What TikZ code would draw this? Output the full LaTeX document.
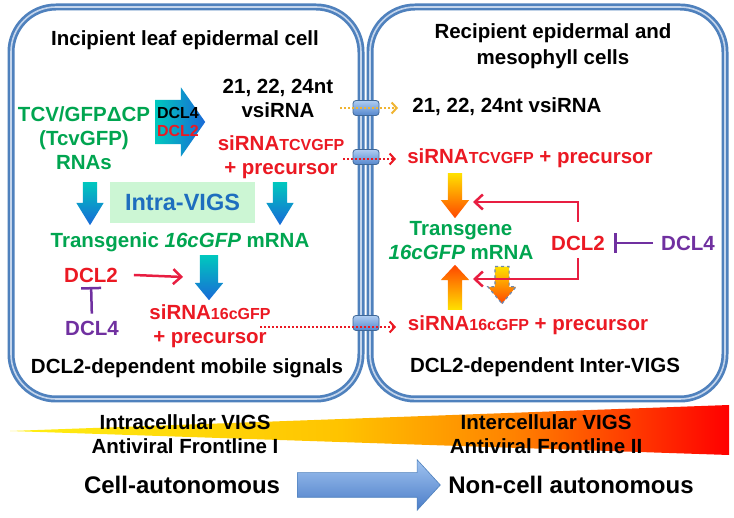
\documentclass[tikz,border=0pt]{standalone}
\usepackage{fontspec}
\setmainfont{Liberation Sans}
\usetikzlibrary{shapes.arrows}
\usetikzlibrary{arrows.meta}
\usetikzlibrary{positioning}

\definecolor{cellblue}{RGB}{79,129,189}
\definecolor{celllight}{RGB}{196,213,236}
\definecolor{vgreen}{RGB}{0,165,80}
\definecolor{vred}{RGB}{235,25,35}
\definecolor{actred}{RGB}{232,30,65}
\definecolor{vpurple}{RGB}{112,48,160}
\definecolor{intrablue}{RGB}{30,110,190}
\definecolor{intrabg}{RGB}{204,246,212}
\definecolor{tealtop}{RGB}{0,200,190}
\definecolor{bluebot}{RGB}{25,105,215}
\definecolor{flameY}{RGB}{255,225,0}
\definecolor{flameR}{RGB}{255,70,0}
\definecolor{goldline}{RGB}{240,180,50}
\definecolor{poretop}{RGB}{175,205,242}
\definecolor{porebot}{RGB}{85,135,205}
\definecolor{wedgeY}{RGB}{255,240,20}
\definecolor{wedgeG}{RGB}{255,195,0}
\definecolor{wedgeO}{RGB}{255,130,0}
\definecolor{wedgeR}{RGB}{255,0,0}
\definecolor{autotop}{RGB}{160,195,240}
\definecolor{autobot}{RGB}{75,125,200}
\definecolor{dashblue}{RGB}{110,135,175}

\pgfdeclarehorizontalshading{frontline}{100bp}{color(0bp)=(wedgeY); color(25bp)=(wedgeY); color(48bp)=(wedgeG); color(60bp)=(wedgeO); color(75bp)=(wedgeR); color(100bp)=(wedgeR)}

\newcommand{\bodysize}{\fontsize{20.5}{24}\selectfont\bfseries}
\newcommand{\subsize}{\fontsize{16}{18}\selectfont}

\tikzset{
  txt/.style={font=\bodysize, inner sep=0pt, align=center},
  cellbox/.style={draw=cellblue, double=celllight, double distance=1.6pt, line width=2.7pt, rounded corners=45pt, inner sep=0pt},
  pore/.style={draw=cellblue!80!black, line width=0.8pt, rounded corners=3pt, top color=poretop, bottom color=porebot, minimum width=26pt, minimum height=15pt, inner sep=0pt},
  blockarrow/.style={single arrow, single arrow head indent=0pt, anchor=tail},
  vertarrow/.style={blockarrow, inner ysep=0pt, inner xsep=#1},
  horzarrow/.style={blockarrow, inner xsep=0pt, inner ysep=#1},
  bluedown/.style={vertarrow=#1, shape border rotate=270, top color=tealtop, bottom color=bluebot},
  flamedown/.style={vertarrow=#1, shape border rotate=270, top color=flameY, bottom color=flameR},
  flameup/.style={vertarrow=#1, shape border rotate=90, top color=flameR, bottom color=flameY},
  mobile/.style={draw=#1, line width=2pt, dash pattern=on 2pt off 2pt, -{Straight Barb[length=5pt,width=11pt,line width=2pt]}},
  activate/.style={draw=actred, line width=2.5pt, -{Straight Barb[length=8pt,width=15pt,line width=2.5pt]}},
  inhibit/.style={draw=vpurple, line width=2.5pt, -{Bar[width=20pt,line width=2.5pt]}}
}

\begin{document}
\begin{tikzpicture}[x=1pt, y=-1pt]
\useasboundingbox (0,0) rectangle (734,518);
\fill[white] (0,0) rectangle (734,518);

% the two cells and the plasmodesmata between them
\node[cellbox, minimum width=350pt, minimum height=392pt] (leftcell) at (186,203) {};
\node[cellbox, minimum width=355pt, minimum height=392pt] (rightcell) at (547.5,203) {};
\node[pore] (pore1) at (366,108) {};
\node[pore] (pore2) at (366,157) {};
\node[pore] (pore3) at (366,323) {};

% incipient cell
\node[txt] (titleL) at (185,40) {Incipient leaf epidermal cell};
\node[txt, text=vgreen] (rnas) at (84,138) {TCV/GFPΔCP\\(TcvGFP)\\RNAs};
\node[horzarrow=22pt, left color=tealtop, right color=bluebot, minimum height=50pt, minimum width=69pt, single arrow head extend=12.5pt, single arrow tip angle=110] (dicer) at (155,122) {};
\node[txt, font=\fontsize{16}{18}\selectfont\bfseries] (dclfourA) at (178,113) {DCL4};
\node[txt, font=\fontsize{16}{18}\selectfont\bfseries, text=vred] (dcltwoA) at (178,131) {DCL2};
\node[txt] (vsirnaL) at (278,98) {21, 22, 24nt\\vsiRNA};
\node[txt, text=vred] (sirnaTL) at (281,157) {siRNA{\subsize TCVGFP}\\+ precursor};
\node[bluedown=7pt, minimum height=43pt, minimum width=27pt, single arrow head extend=6.5pt, single arrow tip angle=63] (downL1) at (90,182) {};
\node[bluedown=7pt, minimum height=43pt, minimum width=27pt, single arrow head extend=6.5pt, single arrow tip angle=63] (downL2) at (280,182) {};
\node[fill=intrabg, minimum width=145pt, minimum height=41pt, inner sep=0pt, font=\fontsize{23.5}{26}\selectfont\bfseries, text=intrablue] (intra) at (182.5,202.5) {Intra-VIGS};
\node[txt, text=vgreen] (mrnaL) at (180,242) {Transgenic \textit{16cGFP} mRNA};
\node[bluedown=9pt, minimum height=45pt, minimum width=28pt, single arrow head extend=5pt, single arrow tip angle=79] (downL3) at (209,255) {};
\node[txt, text=vred] (dcltwoL) at (91,275) {DCL2};
\node[txt, text=vpurple] (dclfourL) at (92,328) {DCL4};
\node[txt, text=vred] (sirna16L) at (210,326) {siRNA{\subsize 16cGFP}\\+ precursor};
\node[txt] (footL) at (187,368) {DCL2-dependent mobile signals};
\coordinate (redtipL) at (183,277);
\draw[activate] ([xshift=16pt]dcltwoL.east) -- (redtipL);
\draw[inhibit, shorten <=7pt, shorten >=4.5pt] (dclfourL.north) -- (dcltwoL.south);

% recipient cells
\node[txt, font=\fontsize{20.5}{26}\selectfont\bfseries] (titleR) at (553,46) {Recipient epidermal and\\mesophyll cells};
\node[txt] (vsirnaR) at (507,107) {21, 22, 24nt vsiRNA};
\node[txt, text=vred] (sirnaTR) at (530,158) {siRNA{\subsize TCVGFP} + precursor};
\node[flamedown=7pt, minimum height=45pt, minimum width=28pt, single arrow head extend=7pt, single arrow tip angle=76] (downR1) at (455,173) {};
\node[txt, text=vgreen] (mrnaR) at (461,241) {Transgene\\\textit{16cGFP} mRNA};
\node[txt, text=vred] (dcltwoR) at (578,243) {DCL2};
\node[txt, text=vpurple] (dclfourR) at (688,243) {DCL4};
\node[flameup=7pt, minimum height=45pt, minimum width=28pt, single arrow head extend=7pt, single arrow tip angle=86] (upR) at (455,310) {};
\node[flamedown=6.5pt, draw=dashblue, dashed, line width=1.2pt, minimum height=37pt, minimum width=27pt, single arrow head extend=7pt, single arrow tip angle=80] (downR2) at (502,266) {};
\node[txt, text=vred] (sirna16R) at (528,325) {siRNA{\subsize 16cGFP} + precursor};
\node[txt] (footR) at (545,367) {DCL2-dependent Inter-VIGS};
\coordinate (mrnatopR) at (473,202);
\coordinate (mrnabotR) at (473,279);
\draw[activate] ([yshift=14pt]dcltwoR.north) |- (mrnatopR);
\draw[activate] ([yshift=-8pt]dcltwoR.south) |- (mrnabotR);
\draw[inhibit, shorten <=8pt, shorten >=9.5pt] (dclfourR.west) -- (dcltwoR.east);

% movement through the plasmodesmata
\coordinate (goldtail) at (340,108);
\coordinate (goldtip) at (398,108);
\coordinate (redtail1) at (343,159);
\coordinate (redtip1) at (396,159);
\coordinate (redtail2) at (260,327);
\coordinate (redtip2) at (396,327);
\draw[mobile=goldline] (goldtail) -- (goldtip);
\draw[mobile=vred] (redtail1) -- (redtip1);
\draw[mobile=vred] (redtail2) -- (redtip2);

% frontline wedge and autonomy arrow
\path[shading=frontline] (10,431) -- (729,405) -- (729,455) -- cycle;
\node[txt] (intraT) at (185,434) {Intracellular VIGS\\Antiviral Frontline I};
\node[txt] (interT) at (546,434) {Intercellular VIGS\\Antiviral Frontline II};
\node[txt, font=\fontsize{24}{28}\selectfont\bfseries] (cellauto) at (182,485) {Cell-autonomous};
\node[txt, font=\fontsize{24}{28}\selectfont\bfseries] (noncellauto) at (571,485) {Non-cell autonomous};
\node[horzarrow=12pt, draw=cellblue, line width=0.6pt, top color=autotop, bottom color=autobot, minimum height=143pt, minimum width=50pt, single arrow head extend=13pt, single arrow tip angle=95] (autoarrow) at (297,485) {};
\end{tikzpicture}
\end{document}
